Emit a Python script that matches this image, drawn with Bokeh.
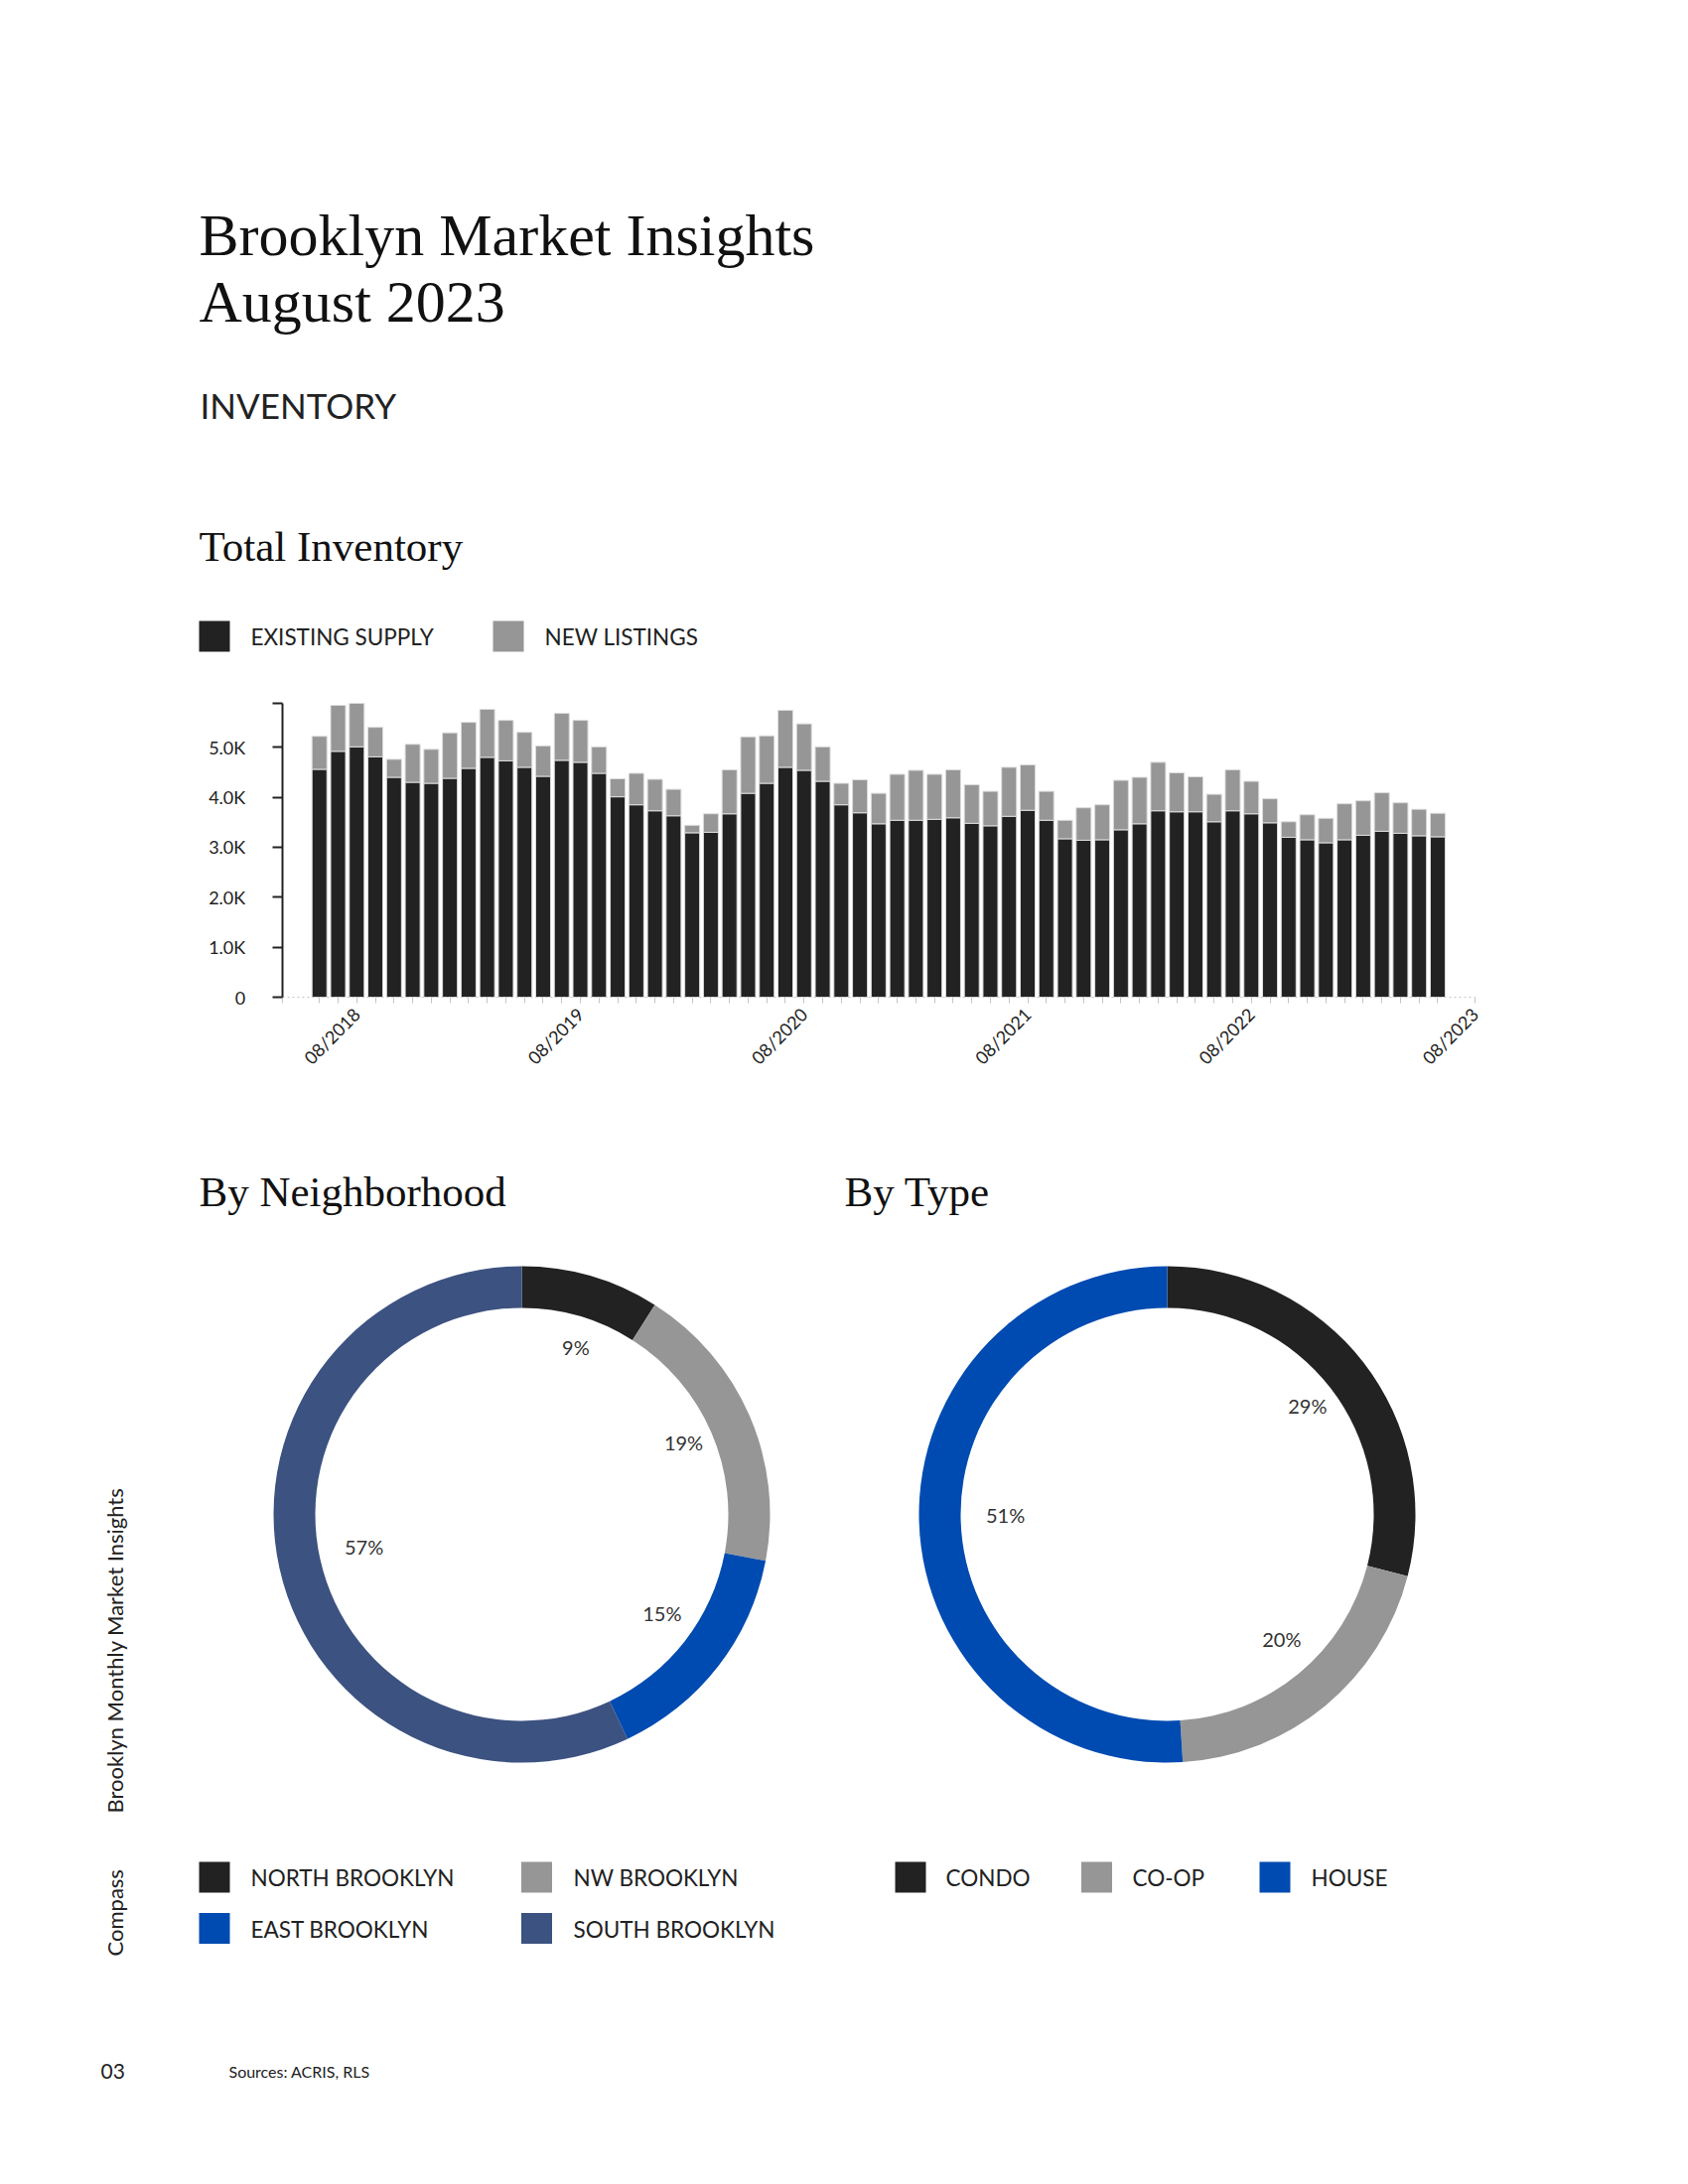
import math
from bokeh.plotting import figure
from bokeh.models import Range1d, FixedTicker, ColumnDataSource, LinearAxis
from bokeh.core.properties import value
from bokeh.embed import file_html
from bokeh.resources import INLINE

# ---------------- data ----------------
existing_supply = [4560, 4920, 5010, 4810, 4400, 4300, 4280, 4380, 4580, 4800,
                   4730, 4600, 4420, 4740, 4700, 4480, 4010, 3850, 3730, 3630,
                   3290, 3300, 3670, 4080, 4280, 4600, 4540, 4320, 3850, 3690,
                   3470, 3540, 3540, 3560, 3590, 3480, 3430, 3620, 3740, 3540,
                   3170, 3140, 3150, 3350, 3470, 3730, 3710, 3710, 3510, 3730,
                   3670, 3490, 3200, 3150, 3090, 3150, 3240, 3320, 3280, 3230,
                   3210]
new_listings = [660, 920, 870, 590, 360, 760, 680, 910, 920, 960,
                810, 700, 610, 940, 840, 530, 360, 630, 630, 530,
                150, 370, 880, 1130, 950, 1140, 930, 690, 430, 660,
                610, 920, 1000, 900, 960, 770, 690, 980, 910, 580,
                370, 650, 700, 990, 930, 970, 780, 700, 550, 820,
                650, 480, 310, 500, 490, 720, 690, 770, 610, 530,
                470]
month_index = list(range(len(existing_supply)))  # 0 = 06/2018
x_tick_positions = [2, 14, 26, 38, 50, 62]
x_tick_labels = ["08/2018", "08/2019", "08/2020", "08/2021", "08/2022", "08/2023"]
y_tick_values = [0, 1000, 2000, 3000, 4000, 5000]
y_tick_labels = ["0", "1.0K", "2.0K", "3.0K", "4.0K", "5.0K"]

bar_series = ["EXISTING SUPPLY", "NEW LISTINGS"]
bar_colors = ["#222222", "#969696"]

hood_names = ["NORTH BROOKLYN", "NW BROOKLYN", "EAST BROOKLYN", "SOUTH BROOKLYN"]
hood_share = [9, 19, 15, 57]
hood_colors = ["#222222", "#969696", "#004BB1", "#3C5280"]

type_names = ["CONDO", "CO-OP", "HOUSE"]
type_share = [29, 20, 51]
type_colors = ["#222222", "#969696", "#004BB1"]

SERIF = value("Liberation Serif")
SANS = value("Lato")
W, H = 1700, 2200

# page-sized canvas: default ranges are page pixels (y negated)
p = figure(width=W, height=H, x_range=Range1d(0, W), y_range=Range1d(-H, 0),
           x_axis_location=None, y_axis_location=None, min_border=0,
           output_backend="svg", toolbar_location=None)
p.outline_line_color = None
p.background_fill_color = "white"
p.xgrid.grid_line_color = None
p.ygrid.grid_line_color = None


def txt(x, y, s, font, size, align="left", baseline="alphabetic", color="#1a1a1a", angle=0):
    p.text(x=[x], y=[-y], text=[s], text_font=font, text_font_size=size,
           text_align=align, text_baseline=baseline, text_color=color, angle=angle)


def square(cx, cy, color):
    p.rect(x=[cx], y=[-cy], width=31, height=31, fill_color=color, line_color=None)


# ---------------- header ----------------
txt(200, 236, "Brooklyn Market Insights", SERIF, "60px", color="#111111")
txt(200, 303, "August 2023", SERIF, "60px", color="#111111")
txt(201, 407, "INVENTORY", SANS, "35px", color="#222222")
txt(200, 550, "Total Inventory", SERIF, "43px", color="#111111")
for cx, tx, col, name in zip([215.5, 511.5], [252, 548], bar_colors, bar_series):
    square(cx, 640.5, col)
    txt(tx, 641, name, SANS, "22.5px", baseline="middle", color="#222222")

# ---------------- bar chart (own ranges & axes) ----------------
BAR_L, BAR_R, BAR_T, BAR_B = 283.7, 1485.0, 708.0, 1004.0
XMIN, XMAX, YMAX = -2, 62, 5880
sx = (BAR_R - BAR_L) / (XMAX - XMIN)
sy = (BAR_B - BAR_T) / YMAX
p.extra_x_ranges = {"bx": Range1d(XMIN - BAR_L / sx, XMIN + (W - BAR_L) / sx)}
p.extra_y_ranges = {"by": Range1d(-(H - BAR_B) / sy, BAR_B / sy)}

src = ColumnDataSource(dict(x=month_index, existing=existing_supply, new=new_listings))
p.vbar_stack(["existing", "new"], x="x", width=0.8, source=src,
             fill_color=bar_colors, line_color="#dcdcdc", line_width=1,
             x_range_name="bx", y_range_name="by")

yov = {float(v): l for v, l in zip(y_tick_values, y_tick_labels)}
yov[float(YMAX)] = ""
ya = LinearAxis(x_range_name="bx", y_range_name="by", fixed_location=XMIN,
                bounds=(0, YMAX), ticker=FixedTicker(ticks=y_tick_values + [YMAX]),
                major_label_overrides=yov,
                axis_line_color="#222222", axis_line_width=2,
                major_tick_line_color="#222222", major_tick_line_width=2,
                major_tick_out=10, major_tick_in=0, minor_tick_line_color=None,
                major_label_standoff=27, major_label_text_font="Lato",
                major_label_text_font_size="18px", major_label_text_color="#222222")
p.add_layout(ya, "left")

xt = [XMIN] + month_index + [XMAX]
xov = {float(t): "" for t in xt}
for t, l in zip(x_tick_positions, x_tick_labels):
    xov[float(t)] = l
xa = LinearAxis(x_range_name="bx", y_range_name="by", fixed_location=0,
                bounds=(XMIN, XMAX), ticker=FixedTicker(ticks=xt),
                major_label_overrides=xov,
                axis_line_color="#c4c4c4", axis_line_dash="2 3", axis_line_width=1,
                major_tick_line_color="#c4c4c4", major_tick_out=6, major_tick_in=0,
                minor_tick_line_color=None, major_label_orientation=math.pi / 4,
                major_label_standoff=8, major_label_text_font="Lato",
                major_label_text_font_size="18px", major_label_text_color="#222222")
p.add_layout(xa, "below")

# ---------------- donuts ----------------
txt(200, 1200, "By Neighborhood", SERIF, "43px", color="#111111")
txt(850, 1200, "By Type", SERIF, "43px", color="#111111")


def donut(cx, cy, shares, colors):
    total = float(sum(shares))
    cum = 0.0
    starts, ends, lx, ly, labels = [], [], [], [], []
    for s in shares:
        starts.append(math.pi / 2 - 2 * math.pi * cum / total)
        ends.append(math.pi / 2 - 2 * math.pi * (cum + s) / total)
        am = math.pi / 2 - 2 * math.pi * (cum + s / 2) / total
        lx.append(cx + 7 + 170 * math.cos(am))
        ly.append(-cy + 5 + 170 * math.sin(am))
        labels.append(f"{s}%")
        cum += s
    p.annular_wedge(x=cx, y=-cy, inner_radius=208, outer_radius=250,
                    start_angle=starts, end_angle=ends, direction="clock",
                    fill_color=colors, line_color=None)
    p.text(x=lx, y=ly, text=labels, text_font=SANS, text_font_size="20px",
           text_align="center", text_baseline="middle", text_color="#333333")


donut(525, 1525, hood_share, hood_colors)
donut(1175, 1525, type_share, type_colors)

# ---------------- legends ----------------
hood_pos = [(215.5, 1890.5, 252), (540.0, 1890.5, 577), (215.5, 1942.0, 252), (540.0, 1942.0, 577)]
for (cx, cy, tx), col, name in zip(hood_pos, hood_colors, hood_names):
    square(cx, cy, col)
    txt(tx, cy + 0.5, name, SANS, "22.5px", baseline="middle", color="#222222")

type_pos = [(916.5, 952), (1104.0, 1140), (1283.5, 1320)]
for (cx, tx), col, name in zip(type_pos, type_colors, type_names):
    square(cx, 1890.5, col)
    txt(tx, 1891, name, SANS, "22.5px", baseline="middle", color="#222222")

# ---------------- margins / footer ----------------
txt(115, 1826, "Brooklyn Monthly Market Insights", SANS, "22px",
    baseline="middle", color="#222222", angle=math.pi / 2)
txt(115, 1970, "Compass", SANS, "22px", baseline="middle", color="#222222", angle=math.pi / 2)
txt(101, 2086, "03", SANS, "21px", baseline="middle", color="#222222")
txt(230, 2086, "Sources: ACRIS, RLS", SANS, "16px", baseline="middle", color="#222222")

open("out.html", "w").write(file_html(p, INLINE))
